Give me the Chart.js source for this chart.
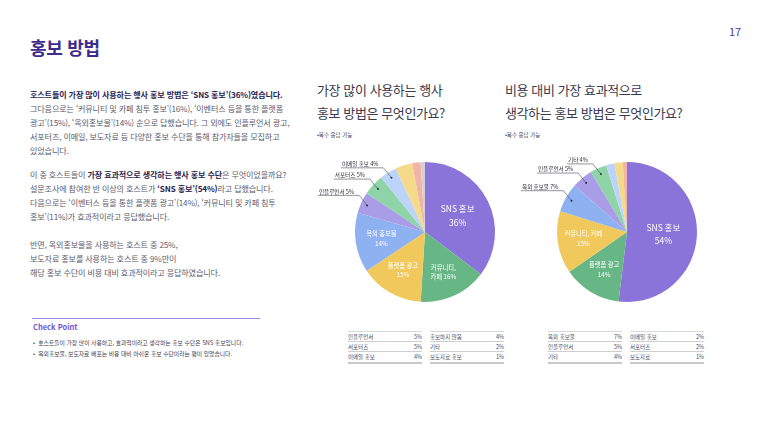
<!DOCTYPE html>
<html lang="ko">
<head>
<meta charset="utf-8">
<script src="https://cdn.jsdelivr.net/npm/chart.js@4.4.1/dist/chart.umd.min.js"></script>
<style>
  html, body { margin: 0; padding: 0; background: #fff; }
  body { width: 773px; height: 435px; position: relative; overflow: hidden;
         font-family: "Noto Sans CJK KR", "Noto Sans", sans-serif; color: #5d5b6c; }
  .abs { position: absolute; }
  #title { left: 30px; top: 34px; font-size: 18px; font-weight: 700; color: #3d2c8d; letter-spacing: -0.3px; }
  #pnum { left: 729px; top: 23px; font-size: 11px; color: #4a3aa6; }
  .para { left: 30px; font-size: 8.1px; line-height: 14px; letter-spacing: -0.15px; white-space: nowrap; }
  .para b { color: #2a244f; font-weight: 700; }
  #p1 { top: 88px; }
  #p2 { top: 168px; }
  #cpline { left: 32px; top: 318px; width: 228px; height: 1px; background: #9b8ae3; }
  #cptitle { left: 33px; top: 321px; font-size: 7.5px; font-weight: 700; color: #6e57d4; }
  .bullet { left: 33px; font-size: 5.8px; color: #3b3a4a; white-space: nowrap; }
  .ctitle { font-size: 13px; line-height: 23px; color: #3a394d; letter-spacing: -0.4px; white-space: nowrap; }
  .note { font-size: 5.5px; color: #3a394d; white-space: nowrap; }
  .tcol { width: 74px; border-top: 0.5px solid #d8d8d8; border-bottom: 2px solid #c9c9c9; }
  .trow { height: 10px; font-size: 5.5px; line-height: 10px; color: #4a4a55; display: flex; justify-content: space-between;
          border-bottom: 0.5px solid #cfcfcf; box-sizing: border-box; }
  .trow:last-child { border-bottom: none; }
  canvas { display: block; }
</style>
</head>
<body>
<div id="title" class="abs">홍보 방법</div>
<div id="pnum" class="abs">17</div>

<div id="p1" class="abs para">
<b>호스트들이 가장 많이 사용하는 행사 홍보 방법은 ‘SNS 홍보’(36%)였습니다.</b><br>
그다음으로는 ‘커뮤니티 및 카페 침투 홍보’(16%), ‘이벤터스 등을 통한 플랫폼<br>
광고’(15%), ‘옥외홍보물’(14%) 순으로 답했습니다. 그 외에도 인플루언서 광고,<br>
서포터즈, 이메일, 보도자료 등 다양한 홍보 수단을 통해 참가자들을 모집하고<br>
있었습니다.
</div>
<div id="p2" class="abs para">
이 중 호스트들이 <b>가장 효과적으로 생각하는 행사 홍보 수단</b>은 무엇이었을까요?<br>
설문조사에 참여한 반 이상의 호스트가 <b>‘SNS 홍보’(54%)</b>라고 답했습니다.<br>
다음으로는 ‘이벤터스 등을 통한 플랫폼 광고’(14%), ‘커뮤니티 및 카페 침투<br>
홍보’(11%)가 효과적이라고 응답했습니다.<br>
<br>
반면, 옥외홍보물을 사용하는 호스트 중 25%,<br>
보도자료 홍보를 사용하는 호스트 중 9%만이<br>
해당 홍보 수단이 비용 대비 효과적이라고 응답하였습니다.
</div>

<div id="cpline" class="abs"></div>
<div id="cptitle" class="abs">Check Point</div>
<div class="abs bullet" style="top:338px">•&nbsp;&nbsp;호스트들이 가장 많이 사용하고, 효과적이라고 생각하는 홍보 수단은 SNS 홍보입니다.</div>
<div class="abs bullet" style="top:349px">•&nbsp;&nbsp;옥외홍보물, 보도자료 배포는 비용 대비 아쉬운 홍보 수단이라는 평이 있었습니다.</div>

<div class="abs ctitle" style="left:317px; top:78px">가장 많이 사용하는 행사<br>홍보 방법은 무엇인가요?</div>
<div class="abs note" style="left:317px; top:131px">•복수 응답 가능</div>
<div class="abs ctitle" style="left:505px; top:78px">비용 대비 가장 효과적으로<br>생각하는 홍보 방법은 무엇인가요?</div>
<div class="abs note" style="left:505px; top:131px">•복수 응답 가능</div>

<div class="abs" style="left:305px; top:150px; width:240px; height:164px"><canvas id="chartUsed"></canvas></div>
<div class="abs" style="left:510px; top:150px; width:234px; height:164px"><canvas id="chartEffective"></canvas></div>

<div id="tUsedA" class="abs tcol" style="left:348px; top:331px"></div>
<div id="tUsedB" class="abs tcol" style="left:430px; top:331px"></div>
<div id="tEffA" class="abs tcol" style="left:548px; top:331px"></div>
<div id="tEffB" class="abs tcol" style="left:630px; top:331px"></div>

<script>
// 가장 많이 사용하는 홍보 방법 (%)
const usedLabels = ['SNS 홍보', '커뮤니티, 카페', '플랫폼 광고', '옥외 홍보물', '인플루언서', '서포터즈', '이메일 홍보', '홍보하지 않음', '기타', '보도자료 홍보'];
const usedValues = [36, 16, 15, 14, 5, 5, 4, 4, 2, 1];
const usedInside = ['SNS 홍보\n', '커뮤니티,\n카페 ', '플랫폼 광고\n', '옥외 홍보물\n'];
const usedOutside = [4, 5, 6];

// 비용 대비 가장 효과적인 홍보 방법 (%)
const effLabels = ['SNS 홍보', '플랫폼 광고', '커뮤니티, 카페', '옥외 홍보물', '인플루언서', '기타', '이메일 홍보', '서포터즈', '보도자료'];
const effValues = [54, 14, 15, 7, 5, 4, 2, 2, 1];
const effInside = ['SNS 홍보\n', '플랫폼 광고\n', '커뮤니티, 카페\n'];
const effOutside = [3, 4, 5];

const sliceColors = ['#8a73d9', '#67b685', '#f0c85c', '#8eb1f1', '#aa9de8', '#8fd3a8', '#bcd4f9', '#f5da8b', '#f0b5a9', '#d3d3d3'];
const FONT = '"Noto Sans CJK KR", sans-serif';

// 조각 안/밖 라벨 그리기
const sliceLabels = {
    id: 'sliceLabels',
    afterDatasetsDraw(chart, args, opts) {
        const ctx = chart.ctx;
        const meta = chart.getDatasetMeta(0);
        const labels = chart.data.labels;
        const values = chart.data.datasets[0].data;
        meta.data.forEach(function(arc, i) {
            const p = arc.getProps(['x', 'y', 'startAngle', 'endAngle', 'outerRadius']);
            const mid = (p.startAngle + p.endAngle) / 2;
            const cos = Math.cos(mid), sin = Math.sin(mid);
            ctx.save();
            if (i < opts.inside.length) {
                const lines = (opts.inside[i] + values[i] + '%').split('\n');
                const size = i === 0 ? 8.5 : 6.3;
                const r = p.outerRadius * (i === 0 ? 0.52 : 0.63);
                const cx = p.x + cos * r, cy = p.y + sin * r;
                ctx.fillStyle = '#ffffff';
                ctx.font = size + 'px ' + FONT;
                ctx.textAlign = 'center';
                ctx.textBaseline = 'middle';
                const lh = size * 1.55;
                lines.forEach(function(t, k) {
                    ctx.fillText(t, cx, cy + (k - (lines.length - 1) / 2) * lh);
                });
            } else if (opts.outside.indexOf(i) >= 0) {
                const dx = p.x + cos * p.outerRadius * 0.91;
                const dy = p.y + sin * p.outerRadius * 0.91;
                const ex = dx - 8, ey = dy - 10;
                const text = labels[i] + ' ' + values[i] + '%';
                ctx.font = '5.6px ' + FONT;
                const w = ctx.measureText(text).width;
                ctx.strokeStyle = '#4a4a5a';
                ctx.lineWidth = 0.6;
                ctx.beginPath();
                ctx.moveTo(dx, dy);
                ctx.lineTo(ex, ey);
                ctx.lineTo(ex - w - 6, ey);
                ctx.stroke();
                ctx.fillStyle = '#2e2e3a';
                ctx.beginPath();
                ctx.arc(dx, dy, 1, 0, Math.PI * 2);
                ctx.fill();
                ctx.textAlign = 'right';
                ctx.textBaseline = 'alphabetic';
                ctx.fillText(text, ex - 5, ey - 1.8);
            }
            ctx.restore();
        });
    }
};

function makePie(id, labels, values, inside, outside, pad) {
    const ctx = document.getElementById(id).getContext('2d');
    new Chart(ctx, {
        type: 'pie',
        data: {
            labels: labels,
            datasets: [{
                data: values,
                backgroundColor: sliceColors.slice(0, values.length),
                borderWidth: 0
            }]
        },
        options: {
            responsive: true,
            maintainAspectRatio: false,
            animation: false,
            layout: { padding: pad },
            plugins: {
                legend: { display: false },
                tooltip: { enabled: false },
                sliceLabels: { inside: inside, outside: outside }
            }
        },
        plugins: [sliceLabels]
    });
}

function fillTable(elId, labels, values) {
    const el = document.getElementById(elId);
    labels.forEach(function(name, i) {
        const row = document.createElement('div');
        row.className = 'trow';
        row.innerHTML = '<span>' + name + '</span><span>' + values[i] + '%</span>';
        el.appendChild(row);
    });
}

makePie('chartUsed', usedLabels, usedValues, usedInside, usedOutside, { left: 50, right: 50, top: 12, bottom: 12 });
makePie('chartEffective', effLabels, effValues, effInside, effOutside, { left: 47, right: 47, top: 12, bottom: 12 });

fillTable('tUsedA', usedLabels.slice(4, 7), usedValues.slice(4, 7));
fillTable('tUsedB', usedLabels.slice(7, 10), usedValues.slice(7, 10));
fillTable('tEffA', effLabels.slice(3, 6), effValues.slice(3, 6));
fillTable('tEffB', effLabels.slice(6, 9), effValues.slice(6, 9));
</script>
</body>
</html>
